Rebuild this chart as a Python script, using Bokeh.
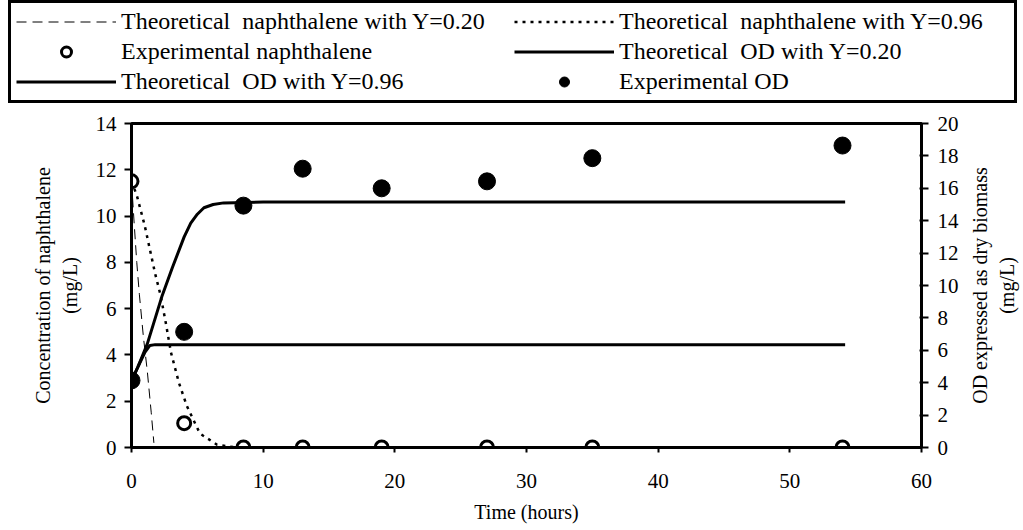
import math
from bokeh.plotting import figure
from bokeh.layouts import column, row
from bokeh.models import (Range1d, LinearAxis, Legend, LegendItem,
                          FixedTicker, Label)
from bokeh.embed import file_html
from bokeh.resources import INLINE

# ---- data ----
time_exp = [0, 4, 8.5, 13, 19, 27, 35, 54]
naph_exp = [11.5, 1.05, 0, 0, 0, 0, 0, 0]                     # mg/L, left axis
od_exp = [4.14, 7.14, 14.93, 17.21, 16.0, 16.43, 17.86, 18.64]  # mg/L, right axis

t_naph_020 = [0, 0.2, 0.4, 0.6, 0.9, 1.2, 1.5, 1.7]
naph_020 = [11.5, 9.7, 8.0, 6.6, 4.8, 3.3, 1.5, 0.2]

t_naph_096 = [0, 0.4, 1.0, 1.8, 2.2, 2.6, 3.0, 3.6, 4.2, 5.2, 6.5, 7.5, 8.5, 54]
naph_096 = [11.5, 10.9, 9.6, 7.5, 6.6, 5.4, 4.1, 2.8, 1.8, 0.6, 0.12, 0.03, 0, 0]

t_od_096 = [0, 0.5, 1.2, 2.3, 3.1, 4.0, 4.5, 5.0, 5.5, 6.2, 7.0, 10, 54.2]
od_096 = [4.1, 5.0, 6.4, 9.3, 11.1, 13.0, 13.85, 14.4, 14.8, 15.0, 15.1, 15.15, 15.15]

t_od_020 = [0, 0.5, 1.0, 1.4, 1.8, 54.2]
od_020 = [4.1, 5.0, 5.85, 6.3, 6.35, 6.35]

x_ticks = [0, 10, 20, 30, 40, 50, 60]
left_ticks = [0, 2, 4, 6, 8, 10, 12, 14]
right_ticks = [0, 2, 4, 6, 8, 10, 12, 14, 16, 18, 20]

labels = [
    "Theoretical  naphthalene with Y=0.20",
    "Theoretical  naphthalene with Y=0.96",
    "Experimental naphthalene",
    "Theoretical  OD with Y=0.20",
    "Theoretical  OD with Y=0.96",
    "Experimental OD",
]
right_title = ["OD expressed as dry biomass", "(mg/L)"]

FONT = "Liberation Serif"


def add_series(fig):
    r1 = fig.line(t_naph_020, naph_020, line_color="black", line_width=1,
                  line_dash="10 6")
    r2 = fig.line(t_naph_096, naph_096, line_color="black", line_width=2.5,
                  line_dash="3 5")
    r3 = fig.line(t_od_020, od_020, line_color="black", line_width=3,
                  y_range_name="od")
    r4 = fig.line(t_od_096, od_096, line_color="black", line_width=3,
                  y_range_name="od")
    r5 = fig.scatter(time_exp, naph_exp, marker="circle", size=13,
                     fill_color="white", line_color="black", line_width=3)
    r6 = fig.scatter(time_exp, od_exp, marker="circle", size=17,
                     fill_color="black", line_color="black",
                     y_range_name="od")
    return r1, r2, r3, r4, r5, r6


# ---------------- main chart ----------------
p = figure(width=965, height=420,
           x_range=Range1d(0, 60), y_range=Range1d(0, 14),
           output_backend="svg", toolbar_location=None,
           min_border_left=131, min_border_right=44,
           min_border_bottom=83, min_border_top=13)
p.extra_y_ranges = {"od": Range1d(0, 20)}
p.xgrid.visible = False
p.ygrid.visible = False
p.background_fill_color = "white"
p.border_fill_color = "white"
p.outline_line_color = "black"
p.outline_line_width = 3
p.outline_line_alpha = 1.0

xa = p.xaxis[0]
xa.ticker = FixedTicker(ticks=x_ticks)
xa.axis_label = "Time (hours)"
xa.major_tick_in = 0
xa.major_tick_out = 5
xa.minor_tick_line_color = None
xa.major_label_standoff = 21
xa.axis_label_standoff = 10

ya = p.yaxis[0]
ya.ticker = FixedTicker(ticks=left_ticks)
ya.axis_label = "Concentration of naphthalene\n(mg/L)"
ya.major_tick_in = 0
ya.major_tick_out = 7
ya.minor_tick_line_color = None
ya.major_label_standoff = 8
ya.axis_label_standoff = 12

ra = LinearAxis(y_range_name="od", ticker=FixedTicker(ticks=right_ticks))
ra.major_tick_in = 2
ra.major_tick_out = 7
ra.minor_tick_line_color = None
ra.major_label_standoff = 9
p.add_layout(ra, "right")

for ax in (xa, ya, ra):
    ax.axis_line_width = 3
    ax.axis_line_color = "black"
    ax.major_tick_line_width = 2
    ax.major_tick_line_color = "black"
    ax.major_label_text_font = FONT
    ax.major_label_text_font_size = "21px"
    ax.major_label_text_color = "black"
    ax.axis_label_text_font = FONT
    ax.axis_label_text_font_size = "20px"
    ax.axis_label_text_font_style = "normal"
    ax.axis_label_text_color = "black"

add_series(p)

# ---------------- right axis title strip ----------------
rt = figure(width=58, height=420,
            x_range=Range1d(0, 1), y_range=Range1d(0, 1),
            output_backend="svg", toolbar_location=None,
            x_axis_location=None, y_axis_location=None,
            min_border_left=0, min_border_right=0,
            min_border_top=13, min_border_bottom=83)
rt.xgrid.visible = False
rt.ygrid.visible = False
rt.outline_line_color = None
rt.background_fill_color = "white"
rt.border_fill_color = "white"
for txt, xpos in zip(right_title, (0.25, 0.71)):
    rt.add_layout(Label(x=xpos, y=0.5, text=txt, angle=math.pi / 2,
                        text_align="center", text_baseline="middle",
                        text_font=FONT, text_font_size="20px",
                        text_color="black"))

# ---------------- legend strip ----------------
lg = figure(width=1023, height=110,
            x_range=Range1d(1000, 1001), y_range=Range1d(1000, 1001),
            output_backend="svg", toolbar_location=None,
            x_axis_location=None, y_axis_location=None,
            min_border_left=0, min_border_right=0,
            min_border_top=0, min_border_bottom=0)
lg.extra_y_ranges = {"od": Range1d(1000, 1001)}
lg.xgrid.visible = False
lg.ygrid.visible = False
lg.outline_line_color = None
lg.background_fill_color = "white"
lg.border_fill_color = "white"
l1, l2, l3, l4, l5, l6 = add_series(lg)

items = [
    LegendItem(label=labels[0], renderers=[l1]),
    LegendItem(label=labels[2], renderers=[l5]),
    LegendItem(label=labels[4], renderers=[l4]),
    LegendItem(label=labels[1], renderers=[l2]),
    LegendItem(label=labels[3], renderers=[l3]),
    LegendItem(label=labels[5], renderers=[l6]),
]
legend = Legend(items=items, ncols=2, location=(8, 7), margin=0,
                padding=5, spacing=3, glyph_width=100, glyph_height=25,
                label_height=25, label_width=390, label_standoff=5,
                label_text_font=FONT, label_text_font_size="24px",
                label_text_color="black",
                border_line_color="black", border_line_width=3,
                border_line_alpha=1.0,
                background_fill_color="white", background_fill_alpha=1.0)
lg.add_layout(legend, "center")

layout = column(row(lg, spacing=0), row(p, rt, spacing=0), spacing=0)
open("out.html", "w").write(file_html(layout, INLINE))
